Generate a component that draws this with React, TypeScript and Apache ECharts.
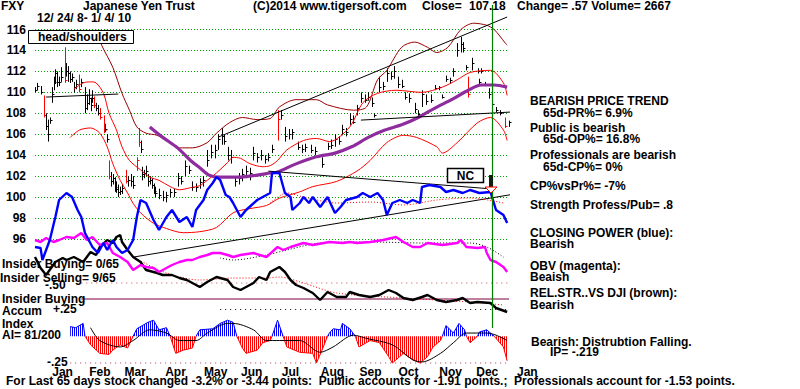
import React, { useEffect, useRef } from "react";
import * as echarts from "echarts";

const FF = '"Liberation Sans", Arial, Helvetica, sans-serif';

// ---- axis data ----
const monthStarts = [5, 25, 44, 66, 87, 107, 129, 150, 171, 192, 214, 234, 256];
const monthLabels = ["Jan", "Feb", "Mar", "Apr", "May", "Jun", "Jul", "Aug", "Sep", "Oct", "Nov", "Dec", "Jan"];
const priceMin = 96;
const priceMax = 116;
const priceStep = 2;
const signalDay = 247;

// ---- price bars: [tradingDay, high, low, close, redFlag] ----
const priceBars = [
  [0, 110.5, 110.0, 110.2, 0], [1, 110.9, 110.2, 110.6, 0], [3, 110.6, 109.8, 110.0, 0],
  [5, 109.7, 107.6, 107.8, 1], [6, 108.0, 106.4, 106.8, 0], [7, 107.4, 105.3, 106.0, 0],
  [8, 107.6, 107.0, 107.4, 0], [9, 110.5, 109.0, 109.8, 0], [10, 111.5, 110.2, 111.0, 0],
  [11, 112.2, 110.8, 111.8, 0], [12, 112.0, 110.5, 111.0, 0], [13, 111.5, 110.6, 111.0, 0],
  [14, 112.4, 111.0, 111.5, 0], [16, 114.3, 110.9, 111.2, 1], [17, 112.8, 111.5, 112.0, 0],
  [18, 112.5, 111.0, 111.8, 0], [19, 112.0, 110.9, 111.3, 0], [20, 111.8, 111.0, 111.5, 0],
  [21, 111.0, 110.0, 110.5, 0], [22, 111.2, 110.3, 110.8, 0], [24, 111.7, 110.0, 110.3, 1],
  [25, 111.3, 110.5, 111.0, 0], [27, 110.5, 108.0, 108.5, 0], [28, 109.8, 108.3, 109.0, 0],
  [29, 110.3, 108.8, 109.5, 0], [30, 109.5, 108.2, 108.8, 0], [31, 110.2, 109.0, 109.5, 0],
  [32, 109.6, 108.5, 108.8, 1], [33, 109.0, 108.2, 108.5, 0], [34, 108.8, 107.8, 108.0, 0],
  [35, 108.5, 107.4, 107.6, 1], [37, 107.8, 106.1, 106.4, 1], [38, 107.0, 106.2, 106.5, 0],
  [39, 106.0, 105.2, 105.5, 0], [40, 103.5, 101.7, 102.0, 1], [41, 102.4, 101.0, 101.5, 0],
  [42, 102.2, 101.2, 101.8, 0], [43, 101.9, 100.5, 101.0, 0], [44, 101.5, 100.4, 100.8, 0],
  [45, 101.2, 100.0, 100.5, 0], [46, 101.0, 100.2, 100.6, 0], [47, 101.2, 100.3, 100.9, 0],
  [49, 102.6, 101.3, 101.5, 1], [50, 102.0, 101.0, 101.6, 0], [52, 102.2, 101.0, 101.5, 0],
  [53, 102.0, 100.8, 101.2, 0], [55, 103.8, 102.5, 103.5, 1], [56, 106.6, 104.8, 105.3, 1],
  [57, 105.4, 104.2, 104.6, 0], [58, 102.9, 101.6, 102.2, 0], [59, 102.6, 101.8, 102.3, 0],
  [60, 103.0, 102.0, 102.5, 0], [61, 102.2, 101.0, 101.5, 0], [62, 102.0, 101.2, 101.6, 0],
  [63, 101.8, 100.8, 101.2, 0], [64, 101.3, 100.3, 100.6, 0], [65, 101.0, 100.0, 100.4, 0],
  [67, 100.8, 99.8, 100.2, 0], [69, 100.6, 99.6, 100.0, 0], [71, 100.5, 99.5, 100.2, 0],
  [73, 100.8, 100.0, 100.5, 0], [75, 100.8, 100.0, 100.5, 0], [77, 102.3, 101.0, 101.8, 0],
  [79, 102.0, 101.2, 101.5, 0], [81, 103.5, 102.0, 103.0, 0], [83, 103.0, 102.2, 102.6, 0],
  [85, 101.5, 100.6, 101.0, 0], [87, 101.3, 100.5, 101.0, 0], [89, 101.8, 100.8, 101.4, 0],
  [91, 102.0, 101.0, 101.6, 0], [93, 104.5, 102.9, 103.5, 0], [95, 105.0, 103.7, 104.3, 0],
  [97, 105.0, 103.7, 104.5, 0], [99, 106.0, 104.5, 105.5, 0], [101, 106.6, 105.0, 105.8, 0],
  [102, 106.0, 105.0, 105.4, 0], [104, 104.8, 103.5, 104.0, 0], [106, 104.5, 103.2, 103.8, 0],
  [108, 102.0, 101.0, 101.5, 0], [110, 102.3, 101.2, 101.8, 0], [112, 102.7, 101.5, 102.2, 0],
  [114, 103.0, 101.8, 102.5, 0], [116, 102.8, 101.6, 102.3, 0], [118, 104.8, 103.5, 104.2, 0],
  [120, 104.2, 103.3, 103.8, 0], [122, 104.5, 103.5, 104.0, 0], [124, 104.0, 103.2, 103.6, 0],
  [126, 104.2, 103.4, 103.8, 0], [128, 105.0, 104.2, 104.6, 0], [131, 108.3, 105.4, 107.5, 1],
  [133, 108.3, 107.4, 107.8, 0], [135, 106.7, 105.3, 105.8, 0], [137, 106.5, 105.5, 106.0, 0],
  [139, 106.5, 105.5, 106.2, 0], [142, 105.3, 104.5, 104.8, 0], [144, 105.0, 104.2, 104.6, 0],
  [146, 105.1, 104.3, 104.8, 0], [149, 105.0, 104.2, 104.5, 0], [151, 104.8, 104.0, 104.4, 0],
  [155, 103.8, 102.8, 103.2, 0], [158, 105.2, 104.5, 104.9, 0], [160, 105.5, 104.6, 105.0, 0],
  [162, 106.0, 104.8, 105.5, 0], [164, 105.8, 105.0, 105.4, 0], [166, 106.9, 105.9, 106.5, 0],
  [168, 106.6, 105.8, 106.2, 0], [170, 108.0, 106.9, 107.5, 0], [172, 107.8, 107.0, 107.2, 0],
  [174, 108.8, 107.8, 108.5, 0], [176, 110.0, 109.0, 109.5, 0], [178, 109.8, 109.0, 109.3, 0],
  [180, 110.0, 109.2, 109.6, 0], [182, 109.5, 108.6, 109.0, 0], [183, 108.0, 107.6, 107.8, 0],
  [186, 111.5, 110.0, 110.5, 0], [188, 111.0, 110.2, 110.6, 0], [190, 112.3, 111.0, 111.8, 0],
  [192, 112.0, 111.2, 111.6, 0], [194, 112.5, 111.3, 112.0, 0], [196, 111.5, 110.4, 110.8, 0],
  [198, 111.2, 110.4, 110.6, 0], [200, 110.0, 109.3, 109.6, 0], [202, 109.9, 109.0, 109.5, 0],
  [205, 109.0, 108.0, 108.4, 0], [207, 108.3, 107.7, 107.9, 0], [209, 110.2, 108.6, 109.8, 0],
  [211, 109.8, 108.8, 109.2, 0], [214, 109.8, 109.0, 109.3, 0], [216, 110.7, 110.2, 110.4, 0],
  [218, 110.6, 110.2, 110.5, 0], [220, 109.8, 109.4, 109.6, 0], [222, 111.6, 111.0, 111.3, 0],
  [224, 111.4, 110.8, 111.2, 0], [226, 112.3, 111.5, 112.0, 0], [228, 114.7, 113.4, 114.0, 0],
  [230, 115.3, 113.8, 114.6, 0], [231, 114.8, 113.8, 114.2, 0], [233, 112.6, 112.1, 112.4, 0],
  [234, 111.5, 109.5, 109.8, 1], [236, 113.3, 112.1, 112.8, 0], [239, 112.3, 111.8, 112.0, 0],
  [240, 111.3, 110.7, 111.0, 0], [241, 112.3, 111.8, 112.0, 0], [243, 111.0, 110.7, 110.8, 0],
  [245, 110.4, 109.4, 109.8, 0], [247, 109.7, 108.6, 108.9, 0], [249, 108.6, 108.1, 108.3, 0],
  [251, 108.3, 107.8, 108.0, 0], [254, 107.6, 106.6, 106.8, 1], [256, 107.3, 106.7, 107.18, 0],
];

// ---- price-panel lines: [tradingDay, price] ----
const upperBand = [
  [21, 110.3], [26, 110.9], [30, 111.0], [33, 110.9], [37, 109.9], [40, 108.0], [44, 106.4], [47, 104.8],
  [51, 103.5], [57, 102.6], [62, 101.9], [67, 101.6], [73, 101.0], [78, 100.7], [84, 100.9], [89, 101.1],
  [93, 101.6], [98, 102.3], [104, 103.3], [107, 103.8], [111, 103.7], [116, 103.2], [123, 102.9], [127, 103.0],
  [131, 103.5], [136, 104.5], [145, 105.4], [152, 105.6], [159, 105.3], [170, 106.7], [177, 109.0], [185, 109.9],
  [195, 110.2], [209, 110.0], [220, 110.5], [228, 111.2], [235, 111.9], [246, 112.1], [253, 110.9], [255, 109.7],
];
const lowerBand = [
  [19, 105.7], [24, 106.4], [30, 106.6], [35, 106.1], [39, 104.8], [42, 103.2], [46, 101.6], [50, 100.4],
  [53, 99.4], [57, 98.5], [64, 97.5], [71, 97.0], [80, 96.6], [89, 96.7], [98, 97.1], [107, 98.5],
  [116, 98.9], [125, 99.2], [132, 99.9], [143, 100.5], [150, 101.0], [163, 101.5], [174, 102.5], [181, 103.5],
  [190, 105.2], [199, 105.9], [206, 105.7], [217, 104.8], [220, 104.2], [228, 105.2], [239, 107.1], [246, 107.6],
  [253, 106.4], [255, 105.4],
];
const outerBand = [
  [33, 116.0], [36, 114.5], [42, 112.4], [47, 109.9], [51, 108.3], [55, 106.7], [60, 106.1], [66, 105.9],
  [73, 105.2], [78, 104.7], [85, 104.7], [93, 105.2], [98, 106.1], [105, 107.1], [112, 107.6], [120, 107.4],
  [127, 107.5], [132, 108.6], [141, 109.3], [152, 109.3], [158, 108.8], [172, 108.3], [179, 108.6], [185, 111.2],
  [190, 112.1], [198, 114.3], [205, 114.8], [212, 114.3], [217, 113.8], [223, 114.3], [230, 116.0], [237, 116.6],
  [244, 116.4], [248, 116.0], [254, 114.7], [255, 114.5],
];
const ma65 = [
  [62, 106.7], [69, 105.7], [77, 104.7], [84, 103.5], [89, 102.8], [94, 102.1], [100, 101.9], [109, 101.9],
  [120, 102.1], [127, 102.3], [131, 102.4], [140, 103.1], [151, 103.8], [162, 104.2], [171, 104.8], [180, 105.7],
  [189, 106.4], [198, 106.9], [207, 107.6], [216, 108.5], [225, 109.3], [234, 110.2], [241, 110.7], [248, 110.7],
  [255, 110.5],
];
const trendLines = [
  [[6, 109.55], [45, 109.84]],
  [[99, 105.73], [255, 117.19]],
  [[176, 107.35], [257, 108.12]],
  [[126, 102.48], [248, 100.76]],
  [[53, 94.27], [272, 100.67]],
];

// ---- indicators (arbitrary indicator units) ----
const closingPower = [
  [0, 13], [3, 12], [4, 0], [8, 20], [11, 43], [13, 60], [17, 67], [20, 63], [23, 50], [25, 43], [27, 27],
  [29, 20], [31, 13], [34, 7], [37, 17], [39, 10], [42, 20], [44, 13], [47, 7], [50, 10], [53, 20], [55, 43],
  [57, 60], [60, 57], [64, 40], [67, 30], [71, 43], [74, 50], [78, 38], [82, 43], [85, 33], [87, 50], [91, 60],
  [93, 70], [96, 77], [98, 83], [100, 80], [103, 65], [105, 63], [107, 57], [111, 43], [114, 50], [120, 60],
  [123, 63], [127, 67], [128, 87], [132, 87], [135, 67], [138, 63], [139, 50], [143, 57], [145, 63], [148, 57],
  [150, 63], [154, 53], [158, 63], [162, 47], [165, 53], [168, 60], [174, 63], [177, 67], [181, 63], [185, 67],
  [188, 60], [190, 45], [193, 57], [197, 60], [201, 57], [204, 60], [208, 57], [209, 73], [213, 75], [219, 73],
  [222, 68], [226, 70], [231, 67], [235, 70], [240, 67], [246, 68], [249, 50], [253, 45], [255, 37],
];
const closingPowerMA = [[127, 57], [136, 67], [145, 63], [163, 57], [181, 58], [199, 55], [217, 60], [235, 62], [253, 57]];
const obv = [
  [0, 40], [3, 38], [6, 42], [10, 38], [13, 40], [17, 43], [21, 42], [25, 47], [28, 40], [31, 43], [35, 35],
  [39, 37], [42, 27], [46, 23], [50, 18], [53, 10], [57, 15], [60, 13], [64, 12], [67, 8], [71, 12], [74, 15],
  [78, 18], [82, 20], [85, 20], [89, 23], [93, 25], [96, 27], [100, 27], [104, 25], [107, 23], [111, 25],
  [118, 27], [125, 23], [131, 33], [134, 30], [138, 33], [145, 37], [150, 35], [159, 38], [166, 37], [170, 38],
  [174, 37], [181, 38], [188, 40], [195, 43], [199, 38], [204, 33], [208, 33], [212, 37], [220, 35], [228, 37],
  [230, 40], [233, 33], [239, 32], [243, 33], [244, 27], [246, 20], [249, 18], [253, 13], [255, 8],
];
const obvMA = [[100, 22], [107, 20], [125, 25], [136, 30], [154, 37], [181, 38], [210, 37], [235, 37], [244, 33], [253, 23]];
const relStrength = [
  [0, 63], [3, 52], [6, 45], [11, 58], [15, 62], [17, 60], [21, 63], [26, 58], [30, 68], [33, 65], [35, 73],
  [39, 80], [42, 77], [44, 83], [46, 85], [47, 78], [50, 70], [53, 63], [57, 58], [60, 50], [66, 47], [69, 45],
  [74, 45], [78, 42], [82, 40], [85, 37], [89, 33], [93, 38], [98, 43], [104, 40], [107, 33], [111, 30],
  [118, 37], [121, 43], [125, 40], [127, 48], [132, 53], [135, 48], [138, 40], [141, 35], [145, 32], [150, 27],
  [154, 20], [158, 28], [163, 23], [168, 23], [170, 28], [175, 25], [181, 23], [186, 25], [191, 30], [195, 27],
  [199, 22], [204, 20], [209, 23], [212, 25], [217, 20], [222, 18], [228, 20], [231, 22], [235, 17], [239, 18],
  [246, 17], [249, 12], [255, 8],
];
const relStrengthMA = [[53, 63], [71, 47], [89, 40], [107, 42], [125, 42], [132, 43], [145, 37], [163, 27], [199, 22], [235, 18], [253, 15]];
const insiderLevel = 21;
const rsRefLevel = 37;

// ---- accumulation index ----
const accumIndex = [
  [19, 0.09], [22, 0.08], [26, 0.12], [27, 0], [30, -0.08], [35, -0.16], [40, -0.17], [42, -0.13], [46, -0.08],
  [50, -0.11], [53, 0], [55, 0.07], [58, 0.1], [61, 0.13], [64, 0.15], [67, 0.06], [71, 0.08], [73, 0],
  [76, -0.16], [80, -0.13], [85, -0.11], [87, 0], [89, 0.06], [96, 0.07], [100, 0.12], [104, 0.15], [107, 0.13],
  [109, 0], [112, -0.11], [114, -0.16], [120, -0.13], [123, -0.06], [127, -0.04], [128, 0], [131, 0.15], [134, 0],
  [136, -0.1], [143, -0.15], [150, -0.16], [152, -0.25], [155, -0.13], [158, 0], [159, 0.03], [161, 0.07],
  [165, 0.06], [166, 0.12], [170, 0.07], [173, 0], [175, -0.1], [181, -0.04], [186, -0.06], [191, -0.19],
  [193, -0.25], [197, -0.19], [199, -0.16], [204, -0.22], [208, -0.25], [212, -0.19], [215, -0.1], [219, -0.04],
  [220, 0], [222, 0.1], [226, 0.03], [229, 0.12], [232, 0.06], [233, 0], [235, -0.06], [239, 0], [240, 0.04],
  [244, 0.06], [248, 0], [250, -0.04], [253, -0.1], [255, -0.23],
];
const accumMA = [
  [30, 0.08], [35, -0.04], [46, -0.1], [53, -0.04], [62, 0.06], [71, 0.03], [78, -0.04], [87, -0.04], [93, 0.03],
  [104, 0.12], [107, 0.12], [118, 0.06], [125, -0.04], [132, -0.04], [143, -0.04], [154, -0.15], [161, -0.1],
  [172, 0.01], [179, -0.02], [193, -0.08], [204, -0.22], [209, -0.24], [219, -0.16], [226, -0.06], [233, 0.03],
  [244, 0.03], [249, 0.01], [255, -0.04],
];
const aiUpper = 0.25;
const aiLower = -0.25;

function stripe(color: string) {
  const c = document.createElement("canvas");
  c.width = 2;
  c.height = 2;
  const g = c.getContext("2d")!;
  g.fillStyle = "#ffffff";
  g.fillRect(0, 0, 2, 2);
  g.fillStyle = color;
  g.fillRect(0, 0, 1, 2);
  return c;
}

function txt(text: string, x: number, base: number, size = 12, align = "left") {
  return {
    type: "text",
    x,
    y: base - size * 0.35,
    z: 100,
    silent: true,
    style: {
      text,
      fill: "#000",
      font: `bold ${size}px ${FF}`,
      textAlign: align,
      textVerticalAlign: "middle",
      align,
      verticalAlign: "middle",
    },
  };
}

export default function App() {
  const ref = useRef<HTMLDivElement>(null);
  useEffect(() => {
    const chart = echarts.init(ref.current!, null, { renderer: "svg" });
    const L = 35;
    const R = 291;
    const gridDefs = [
      { top: 29.5, height: 209.5 },
      { top: 160, height: 100 },
      { top: 220, height: 60 },
      { top: 230, height: 90 },
      { top: 309.5, height: 53.5 },
      { top: 5, height: 323 },
    ];
    const grid = gridDefs.map((g) => ({ left: L, right: R, top: g.top, height: g.height, outerBoundsMode: "none" }));
    const xAxis = gridDefs.map((_, i) => {
      if (i !== 4) return { type: "value", gridIndex: i, min: 0, max: 256, show: false };
      return {
        type: "value",
        gridIndex: i,
        min: 0,
        max: 256,
        axisLine: { show: false },
        axisTick: { show: false, customValues: monthStarts },
        splitLine: { show: false },
        axisLabel: {
          customValues: monthStarts,
          formatter: (v: number) => monthLabels[monthStarts.indexOf(Math.round(v))] ?? "",
          align: "left",
          padding: [0, 0, 0, 8],
          margin: 3,
          color: "#000",
          fontSize: 12,
          fontWeight: "bold",
          fontFamily: FF,
        },
      };
    });
    const yAxis: any[] = [
      {
        type: "value",
        gridIndex: 0,
        min: priceMin,
        max: priceMax,
        interval: priceStep,
        axisLine: { show: false },
        axisTick: { show: false },
        axisLabel: { color: "#000", fontSize: 12, fontWeight: "bold", fontFamily: FF, margin: 9 },
        splitLine: { lineStyle: { color: "#00a000", type: [1, 2], width: 1 } },
      },
      { type: "value", gridIndex: 1, min: 0, max: 100, show: false },
      { type: "value", gridIndex: 2, min: 0, max: 60, show: false },
      { type: "value", gridIndex: 3, min: 0, max: 90, show: false },
      { type: "value", gridIndex: 4, min: aiLower, max: aiUpper, show: false },
      { type: "value", gridIndex: 5, min: 0, max: 1, show: false },
    ];

    const line = (data: any[], gi: number, color: string, width: number, extra: any = {}) => ({
      type: "line",
      xAxisIndex: gi,
      yAxisIndex: gi,
      data,
      symbol: "none",
      showSymbol: false,
      clip: false,
      silent: true,
      lineStyle: { color, width, ...(extra.lineStyle || {}) },
      ...extra,
      ...(extra.lineStyle ? { lineStyle: { color, width, ...extra.lineStyle } } : {}),
    });

    const aiPos = accumIndex.map(([d, v]) => [d, v >= 0 ? v : null]);
    const aiNeg = accumIndex.map(([d, v]) => [d, v <= 0 ? v : null]);

    const series: any[] = [
      line(outerBand, 0, "#990000", 1, { smooth: 0.3 }),
      line(upperBand, 0, "#ff0000", 1, { smooth: 0.3 }),
      line(lowerBand, 0, "#ff0000", 1, { smooth: 0.3 }),
      {
        type: "custom",
        xAxisIndex: 0,
        yAxisIndex: 0,
        silent: true,
        clip: false,
        data: priceBars,
        encode: { x: 0, y: [1, 2, 3] },
        renderItem: (_p: any, api: any) => {
          const d = api.value(0);
          const hi = api.coord([d, api.value(1)]);
          const lo = api.coord([d, api.value(2)]);
          const cl = api.coord([d, api.value(3)]);
          const color = api.value(4) ? "#ff0000" : "#000000";
          const x = Math.round(hi[0]) + 0.5;
          const yc = Math.round(cl[1]) + 0.5;
          return {
            type: "group",
            children: [
              { type: "line", shape: { x1: x, y1: hi[1], x2: x, y2: lo[1] }, style: { stroke: color, lineWidth: 1 } },
              { type: "line", shape: { x1: x, y1: yc, x2: x + 2, y2: yc }, style: { stroke: color, lineWidth: 1 } },
            ],
          };
        },
      },
      line(ma65, 0, "#8e2c9e", 3.2, { smooth: 0.3 }),
      ...trendLines.map((t) => line(t, 0, "#000000", 1)),
      // lower indicators
      line([[25, insiderLevel], [256, insiderLevel]], 3, "#800040", 1.2),
      line([[25, rsRefLevel], [256, rsRefLevel]], 3, "#c05050", 1, { lineStyle: { type: [1, 4] } }),
      line(relStrengthMA, 3, "#ff0000", 1, { smooth: 0.3, lineStyle: { type: [1, 2] } }),
      line(relStrength, 3, "#000000", 2.4),
      line(obvMA, 2, "#000000", 1, { smooth: 0.3, lineStyle: { type: [1, 2] } }),
      line(obv, 2, "#ff00ff", 2.4),
      line(closingPowerMA, 1, "#ff0000", 1, { smooth: 0.3, lineStyle: { type: [1, 2] } }),
      line(closingPower, 1, "#0000ff", 2.4),
      // accumulation index
      line([[100, aiUpper], [256, aiUpper]], 4, "#000000", 1, { lineStyle: { type: [1, 4] } }),
      line([[19, aiLower], [256, aiLower]], 4, "#aa3355", 1, { lineStyle: { type: [1, 4] } }),
      {
        ...line(aiPos, 4, "#0000ff", 1),
        connectNulls: false,
        areaStyle: { color: { image: stripe("#0000ff"), repeat: "repeat" }, opacity: 1, origin: 0 },
      },
      {
        ...line(aiNeg, 4, "#ff0000", 1),
        connectNulls: false,
        areaStyle: { color: { image: stripe("#ff0000"), repeat: "repeat" }, opacity: 1, origin: 0 },
      },
      line(accumMA, 4, "#000000", 1, { smooth: 0.3 }),
      {
        type: "line",
        xAxisIndex: 5,
        yAxisIndex: 5,
        data: [],
        silent: true,
        markLine: {
          silent: true,
          symbol: "none",
          label: { show: false },
          lineStyle: { color: "#008000", width: 1.2, type: "solid" },
          data: [{ xAxis: signalDay }],
        },
      },
    ];

    const graphic: any[] = [
      txt("FXY", 1, 10.5),
      txt("Japanese Yen Trust", 83, 10.5),
      txt("(C)2014 www.tigersoft.com", 253, 10.5),
      txt("Close=", 422, 10.5),
      txt("107.18", 469, 10.5),
      txt("Change= .57 Volume= 2667", 517, 10.5),
      txt("12/ 24/ 8- 1/ 4/ 10", 37, 22.5),
      {
        type: "rect",
        z: 99,
        shape: { x: 28.5, y: 30.5, width: 105, height: 13 },
        style: { fill: "#ffffff", stroke: "#000000", lineWidth: 1 },
      },
      txt("head/shoulders", 38, 41),
      {
        type: "rect",
        z: 99,
        shape: { x: 447.5, y: 168.5, width: 36, height: 14 },
        style: { fill: "#ffffff", stroke: "#000000", lineWidth: 1.5 },
      },
      txt("NC", 465.5, 180, 12, "center"),
      { type: "rect", z: 99, shape: { x: 489, y: 175, width: 4, height: 12 }, style: { fill: "#102010" } },
      {
        type: "polygon",
        z: 99,
        shape: { points: [[485, 187], [497, 187], [491, 193]] },
        style: { fill: "#ffffff", stroke: "#ff0000", lineWidth: 1 },
      },
      txt("BEARISH PRICE TREND", 530, 105),
      txt("65d-PR%= 6.9%", 543, 117),
      txt("Public is bearish", 530, 132),
      txt("65d-OP%= 16.8%", 543, 143),
      txt("Professionals are bearish", 530, 159),
      txt("65d-CP%= 0%", 543, 171),
      txt("CP%vsPr%= -7%", 530, 190),
      txt("Strength Profess/Pub= .8", 530, 209),
      txt("CLOSING POWER (blue):", 530, 237),
      txt("Bearish", 530, 248),
      txt("OBV (magenta):", 530, 270),
      txt("Beaish", 530, 281),
      txt("REL.STR..VS DJI (brown):", 530, 297),
      txt("Bearish", 530, 309),
      txt("Bearish: Distrubtion Falling.", 531, 346),
      txt("IP= -.219", 550, 356),
      txt("Insider Buying= 0/65", 2, 268),
      txt("Insider Selling= 9/65", 0, 282),
      txt("-.50", 45, 289),
      txt("Insider Buying", 2, 303),
      txt("Accum", 2, 315),
      txt("+.25", 53, 313),
      txt("Index", 2, 328),
      txt("AI= 81/200", 2, 339),
      txt("-.25", 47, 366),
      txt(
        "For Last 65 days stock changed -3.2% or -3.44 points:  Public accounts for -1.91 points.;  Professionals account for -1.53 points.",
        6,
        385
      ),
    ];

    chart.setOption({
      animation: false,
      backgroundColor: "#ffffff",
      grid,
      xAxis,
      yAxis,
      series,
      graphic,
    });
    return () => chart.dispose();
  }, []);
  return (
    <div style={{ position: "fixed", left: 0, top: 0, width: 800, height: 389, background: "#fff" }}>
      <div ref={ref} style={{ width: 800, height: 389 }} />
    </div>
  );
}
